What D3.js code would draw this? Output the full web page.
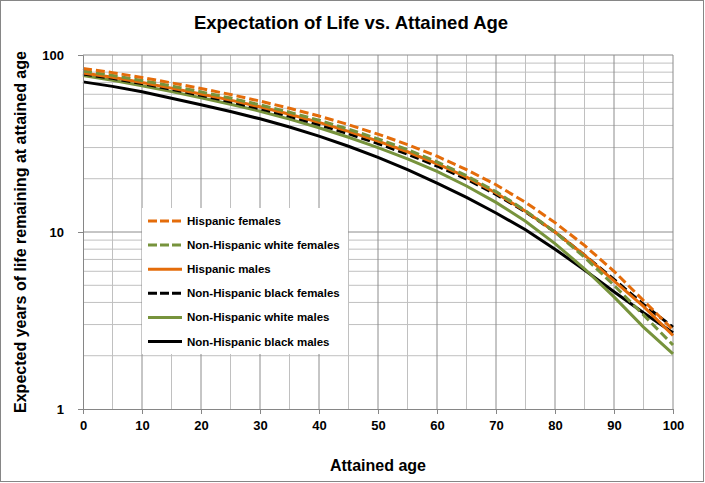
<!DOCTYPE html>
<html>
<head>
<meta charset="utf-8">
<script src="https://cdn.jsdelivr.net/npm/d3@7"></script>
<style>
  body { margin: 0; background: #fff; }
  text { font-family: "Liberation Sans", Arial, sans-serif; font-weight: bold; fill: #000; }
</style>
</head>
<body>
<div id="chart"></div>
<script>
// Data (every 5 years of age)
const ages = [0, 5, 10, 15, 20, 25, 30, 35, 40, 45, 50, 55, 60, 65, 70, 75, 80, 85, 90, 95, 100];

const hispanicFemales = [84.0, 79.5, 74.6, 69.6, 64.7, 59.8, 54.9, 50.0, 45.2, 40.4, 35.7, 31.2, 26.8, 22.5, 18.5, 14.7, 11.3, 8.4, 6.0, 4.1, 2.8];
const nhWhiteFemales = [81.2, 76.7, 71.8, 66.8, 61.9, 57.1, 52.3, 47.5, 42.8, 38.1, 33.6, 29.2, 24.9, 20.8, 16.9, 13.2, 10.0, 7.2, 5.0, 3.4, 2.3];
const hispanicMales = [79.2, 74.8, 70.0, 65.0, 60.2, 55.6, 51.0, 46.3, 41.6, 37.0, 32.6, 28.4, 24.3, 20.4, 16.6, 13.1, 10.0, 7.4, 5.3, 3.8, 2.6];
const nhBlackFemales = [78.1, 73.8, 69.0, 64.0, 59.2, 54.4, 49.7, 45.0, 40.4, 35.9, 31.6, 27.5, 23.6, 19.9, 16.3, 13.0, 10.0, 7.4, 5.4, 3.9, 2.9];
const nhWhiteMales = [76.5, 72.0, 67.1, 62.1, 57.4, 52.7, 48.1, 43.4, 38.8, 34.3, 30.0, 25.9, 22.0, 18.2, 14.7, 11.5, 8.6, 6.2, 4.3, 2.9, 2.05];
const nhBlackMales = [70.5, 66.5, 62.0, 57.0, 52.3, 47.9, 43.6, 39.2, 34.8, 30.5, 26.4, 22.5, 18.9, 15.7, 12.8, 10.3, 8.0, 6.1, 4.6, 3.5, 2.7];

const seriesNames = ["Hispanic females", "Non-Hispanic white females", "Hispanic males",
  "Non-Hispanic black females", "Non-Hispanic white males", "Non-Hispanic black males"];

const xTicks = [0, 10, 20, 30, 40, 50, 60, 70, 80, 90, 100];
const yTicks = [1, 10, 100];

// Styling per series
const orange = "#e46c0a";
const green = "#77933c";
const series = [
  { name: seriesNames[0], values: hispanicFemales, color: orange, dashed: true },
  { name: seriesNames[1], values: nhWhiteFemales, color: green, dashed: true },
  { name: seriesNames[2], values: hispanicMales, color: orange, dashed: false },
  { name: seriesNames[3], values: nhBlackFemales, color: "#000", dashed: true },
  { name: seriesNames[4], values: nhWhiteMales, color: green, dashed: false },
  { name: seriesNames[5], values: nhBlackMales, color: "#000", dashed: false },
];

const width = 705;
const height = 483;
const margin = { top: 55, bottom: 74, left: 83, right: 32 };

const svg = d3.select("#chart").append("svg")
  .attr("width", width)
  .attr("height", height);

// chart frame
svg.append("rect")
  .attr("x", 0.5).attr("y", 0.5)
  .attr("width", width - 2).attr("height", height - 2)
  .attr("fill", "#fff")
  .attr("stroke", "#868686");

const xScale = d3.scaleLinear()
  .domain([0, 100])
  .range([margin.left, width - margin.right]);

const yScale = d3.scaleLog()
  .domain([1, 100])
  .range([height - margin.bottom, margin.top]);

// Gridlines
const xMinor = d3.range(5, 100, 10);
const yMinor = [2, 3, 4, 5, 6, 7, 8, 9, 20, 30, 40, 50, 60, 70, 80, 90];

svg.append("g").selectAll("line")
  .data(xMinor)
  .join("line")
  .attr("x1", (d) => xScale(d)).attr("x2", (d) => xScale(d))
  .attr("y1", yScale(100)).attr("y2", yScale(1))
  .attr("stroke", "#c0c0c0");

svg.append("g").selectAll("line")
  .data(yMinor)
  .join("line")
  .attr("x1", xScale(0)).attr("x2", xScale(100))
  .attr("y1", (d) => yScale(d)).attr("y2", (d) => yScale(d))
  .attr("stroke", "#c0c0c0");

svg.append("g").selectAll("line")
  .data(xTicks.slice(1))
  .join("line")
  .attr("x1", (d) => xScale(d)).attr("x2", (d) => xScale(d))
  .attr("y1", yScale(100)).attr("y2", yScale(1))
  .attr("stroke", "#8c8c8c");

svg.append("g").selectAll("line")
  .data(yTicks.slice(1))
  .join("line")
  .attr("x1", xScale(0)).attr("x2", xScale(100))
  .attr("y1", (d) => yScale(d)).attr("y2", (d) => yScale(d))
  .attr("stroke", "#8c8c8c");

// Lines
const line = d3.line()
  .x((d, i) => xScale(ages[i]))
  .y((d) => yScale(d));

svg.append("g").selectAll("path")
  .data(series.slice().reverse())
  .join("path")
  .attr("fill", "none")
  .attr("stroke", (d) => d.color)
  .attr("stroke-width", 3)
  .attr("stroke-dasharray", (d) => (d.dashed ? "9,4" : null))
  .attr("d", (d) => line(d.values));

// Axes
const xAxis = svg.append("g")
  .attr("transform", `translate(0, ${yScale(1)})`)
  .call(d3.axisBottom(xScale).tickValues(xTicks).tickSize(5).tickPadding(7).tickFormat(d3.format("d")));

const yAxis = svg.append("g")
  .attr("transform", `translate(${xScale(0)}, 0)`)
  .call(d3.axisLeft(yScale).tickValues(yTicks).tickSize(5).tickPadding(14).tickFormat(d3.format("d")));

[xAxis, yAxis].forEach((g) => {
  g.select(".domain").attr("stroke", "#868686");
  g.selectAll(".tick line").attr("stroke", "#868686");
  g.selectAll(".tick text")
    .attr("font-family", "Liberation Sans, Arial, sans-serif")
    .attr("font-weight", "bold")
    .attr("font-size", 13);
});

// Title and axis labels
svg.append("text")
  .attr("x", 351)
  .attr("y", 29)
  .attr("text-anchor", "middle")
  .attr("font-size", 18.5)
  .text("Expectation of Life vs. Attained Age");

svg.append("text")
  .attr("x", (xScale(0) + xScale(100)) / 2)
  .attr("y", 471)
  .attr("text-anchor", "middle")
  .attr("font-size", 16)
  .text("Attained age");

svg.append("text")
  .attr("transform", `translate(26, ${(yScale(1) + yScale(100)) / 2}) rotate(-90)`)
  .attr("text-anchor", "middle")
  .attr("font-size", 16)
  .text("Expected years of life remaining at attained age");

// Legend
const legend = svg.append("g").attr("transform", "translate(142, 208)");

legend.append("rect")
  .attr("width", 206)
  .attr("height", 146)
  .attr("fill", "#fff");

const item = legend.selectAll("g")
  .data(series)
  .join("g")
  .attr("transform", (d, i) => `translate(0, ${13 + i * 24.1})`);

item.append("line")
  .attr("x1", 6).attr("x2", 40)
  .attr("stroke", (d) => d.color)
  .attr("stroke-width", 3)
  .attr("stroke-dasharray", (d) => (d.dashed ? "9,3" : null));

item.append("text")
  .attr("x", 45)
  .attr("dy", "0.35em")
  .attr("font-size", 11.5)
  .text((d) => d.name);
</script>
</body>
</html>
